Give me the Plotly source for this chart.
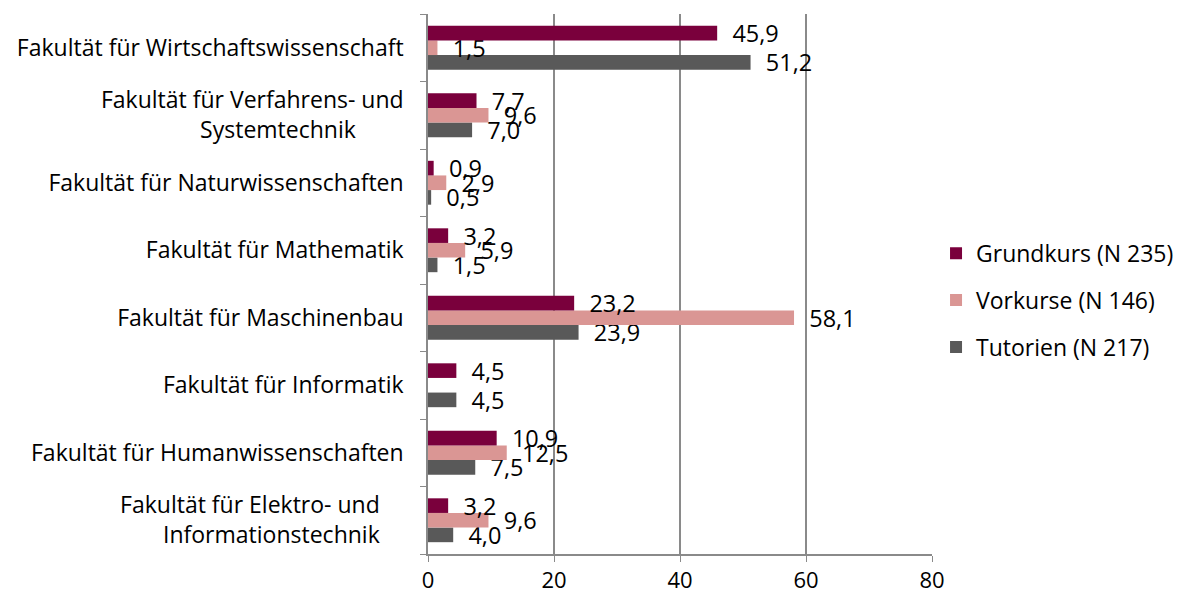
import plotly.graph_objects as go

NB = "\u00a0"
categories = [
    "Fakultät für Elektro- und" + NB * 4 + "<br>Informationstechnik" + NB * 4,
    "Fakultät für Humanwissenschaften",
    "Fakultät für Informatik",
    "Fakultät für Maschinenbau",
    "Fakultät für Mathematik",
    "Fakultät für Naturwissenschaften",
    "Fakultät für Verfahrens- und<br>Systemtechnik" + NB * 8,
    "Fakultät für Wirtschaftswissenschaft",
]
grundkurs = [3.2, 10.9, 4.5, 23.2, 3.2, 0.9, 7.7, 45.9]
vorkurse = [9.6, 12.5, None, 58.1, 5.9, 2.9, 9.6, 1.5]
tutorien = [4.0, 7.5, 4.5, 23.9, 1.5, 0.5, 7.0, 51.2]
x_ticks = [0, 20, 40, 60, 80]

series = [
    ("Tutorien (N 217)", tutorien, "#595959", 3),
    ("Vorkurse (N 146)", vorkurse, "#DA9694", 2),
    ("Grundkurs (N 235)", grundkurs, "#7A003C", 1),
]

FONT = "Open Sans"

def fmt(v):
    if v is None:
        return ""
    return NB * 2 + f"{v:.1f}".replace(".", ",")

fig = go.Figure()
for name, vals, col, rank in series:
    fig.add_trace(go.Bar(
        y=categories, x=vals, orientation="h", name=name,
        marker=dict(color=col, line=dict(width=0)),
        text=[fmt(v) for v in vals], textposition="outside",
        textfont=dict(family=FONT, size=23.5, color="black"),
        constraintext="none", cliponaxis=False,
        legendrank=rank, legendgroup=name,
    ))

fig.update_layout(
    width=1174, height=589,
    margin=dict(l=420, r=250, t=6, b=43, autoexpand=False),
    plot_bgcolor="white", paper_bgcolor="white",
    barmode="group", bargap=0.35, bargroupgap=0,
    font=dict(family=FONT, size=23, color="black"),
    legend=dict(x=1.008, y=0.47, xanchor="left", yanchor="middle",
                font=dict(family=FONT, size=23), tracegroupgap=14),
    xaxis=dict(range=[0, 80], tickvals=x_ticks, showgrid=True,
               gridcolor="#8A8A8A", gridwidth=1.5, zeroline=False,
               showline=True, linecolor="#8A8A8A", linewidth=1.5,
               ticks="outside", ticklen=6, tickcolor="#8A8A8A",
               ticklabelstandoff=0, automargin=False,
               tickfont=dict(family=FONT, size=22)),
    yaxis=dict(showline=True, linecolor="#8A8A8A", linewidth=1.5,
               ticks="outside", ticklen=6, tickcolor="#8A8A8A",
               tickson="boundaries", showgrid=False,
               ticklabelstandoff=18, automargin=False,
               tickfont=dict(family=FONT, size=23)),
)

fig.write_html("out.html")
